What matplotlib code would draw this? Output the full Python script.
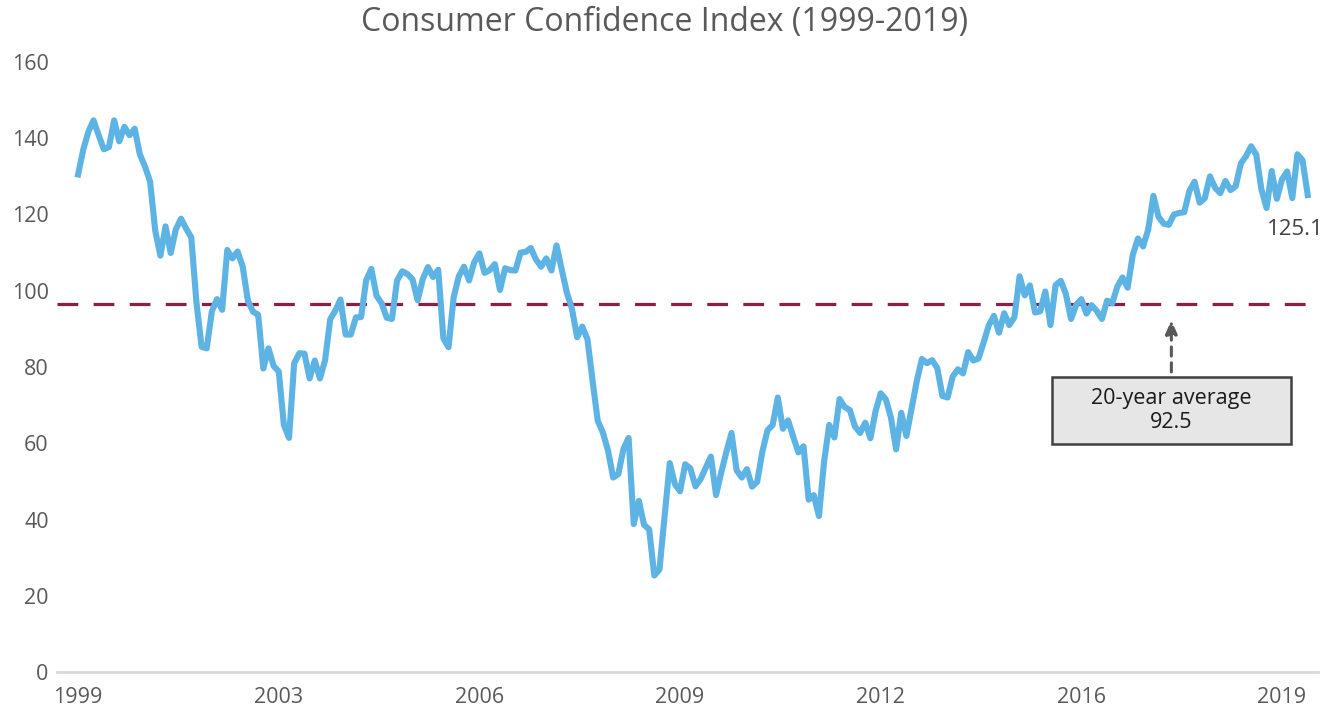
import matplotlib
matplotlib.use("Agg")
import matplotlib.pyplot as plt
from matplotlib.patches import Rectangle

# monthly index, Oct 1999 .. Sep 2019
CCI = [
    130.5, 137.0, 141.7,
    144.7, 140.8, 137.1, 137.7, 144.7, 139.2, 143.0, 140.8, 142.5, 135.8, 132.6, 128.6,
    115.7, 109.2, 116.9, 109.9, 116.1, 118.9, 116.3, 114.0, 97.0, 85.3, 84.9, 94.6,
    97.8, 95.0, 110.7, 108.5, 110.3, 106.3, 97.4, 94.5, 93.7, 79.6, 84.9, 80.3,
    78.8, 64.8, 61.4, 81.0, 83.6, 83.5, 77.0, 81.7, 77.0, 81.7, 92.5, 94.8,
    97.7, 88.5, 88.5, 93.0, 93.1, 102.8, 105.7, 98.7, 96.7, 92.9, 92.6, 102.7,
    105.1, 104.4, 103.0, 97.5, 103.1, 106.2, 103.6, 105.5, 87.5, 85.2, 98.3, 103.8,
    106.3, 102.7, 107.5, 109.8, 104.7, 105.4, 107.0, 100.2, 105.9, 105.4, 105.3, 110.0,
    110.2, 111.2, 108.2, 106.3, 108.5, 105.3, 111.9, 105.6, 99.5, 95.2, 87.8, 90.6,
    87.3, 76.4, 65.9, 62.8, 58.1, 51.0, 51.9, 58.5, 61.4, 38.8, 44.9, 38.6,
    37.4, 25.3, 26.9, 40.8, 54.8, 49.3, 47.4, 54.5, 53.4, 48.7, 50.6, 53.6,
    56.5, 46.4, 52.3, 57.7, 62.7, 52.9, 51.0, 53.2, 48.6, 49.9, 57.8, 63.4,
    64.8, 72.0, 63.8, 66.0, 61.7, 57.6, 59.2, 45.2, 46.4, 40.9, 55.2, 64.8,
    61.5, 71.6, 69.5, 68.7, 64.4, 62.7, 65.4, 61.3, 68.4, 73.1, 71.5, 66.7,
    58.4, 68.0, 61.9, 69.0, 76.2, 82.1, 81.0, 81.8, 79.7, 72.4, 72.0, 77.5,
    79.4, 78.3, 83.9, 81.7, 82.2, 86.4, 90.9, 93.4, 89.0, 94.1, 91.0, 93.1,
    103.8, 98.8, 101.4, 94.3, 94.6, 99.8, 91.0, 101.5, 102.6, 99.1, 92.6, 96.3,
    97.8, 94.0, 96.2, 94.7, 92.6, 97.4, 96.7, 101.1, 103.5, 100.8, 109.4, 113.7,
    111.6, 116.1, 124.9, 119.4, 117.6, 117.3, 120.0, 120.4, 120.6, 126.2, 128.6, 123.1,
    124.3, 130.0, 127.0, 125.6, 128.8, 126.4, 127.4, 133.4, 135.3, 137.9, 135.7, 126.6,
    121.7, 131.4, 124.1, 129.2, 131.3, 124.3, 135.8, 134.2, 125.1,
]
TICK_LABELS = ["1999", "2003", "2006", "2009", "2012", "2016", "2019"]
TICK_EVERY = 39
AVG_LINE = 96.4
AVG_TEXT = "20-year average\n92.5"
Y_TICKS = list(range(0, 161, 20))

GRAY = "#595959"
plt.rcParams["font.family"] = ["Open Sans", "DejaVu Sans"]

W, H = 1336, 712
fig = plt.figure(figsize=(W / 100, H / 100), dpi=100)
ax = fig.add_axes([57 / W, 40 / H, (1318 - 57) / W, 610 / H])

x = list(range(len(CCI)))
ax.plot(x, CCI, color="#5DB3E4", lw=4.4, solid_joinstyle="round", zorder=3)
ax.axhline(AVG_LINE, color="#8C1D45", lw=2.3, dashes=(6.5, 4.8), zorder=2)

ax.set_xlim(-4.1, 241)
ax.set_ylim(0, 160)
ax.set_yticks(Y_TICKS)
ax.set_xticks([i * TICK_EVERY for i in range(len(TICK_LABELS))])
ax.set_xticklabels(TICK_LABELS)
ax.tick_params(length=0, labelsize=15.5, colors=GRAY)
ax.tick_params(axis="y", pad=6)
ax.tick_params(axis="x", pad=11)
for side in ["top", "right", "left"]:
    ax.spines[side].set_visible(False)
ax.spines["bottom"].set_color("#D9D9D9")
ax.spines["bottom"].set_linewidth(2)

# end value label
ax.annotate(f"{CCI[-1]:.1f}", xy=(len(CCI) - 1, CCI[-1]), xytext=(-9, -25),
            textcoords="offset points", ha="center", va="center",
            fontsize=16, color="#404040")

# average callout
cx = 212.5
ax.annotate("", xy=(cx, 92.3), xytext=(cx, 78.7),
            arrowprops=dict(arrowstyle="-|>,head_width=0.35,head_length=0.8",
                            color=GRAY, lw=2.2, linestyle=(0, (3, 2.2)),
                            shrinkA=0, shrinkB=0))
ax.add_patch(Rectangle((189.3, 59.8), 46.4, 17.6, fc="#E6E6E6", ec="#404040",
                       lw=1.8, zorder=4))
ax.text(cx, 68.6, AVG_TEXT, ha="center", va="center", fontsize=15.5,
        color="#1A1A1A", linespacing=1.2, zorder=5)

fig.text(0.4975, 1 - 22 / H, "Consumer Confidence Index (1999-2019)",
         ha="center", va="center", fontsize=23, color=GRAY)

fig.savefig("out.png", dpi=100)
